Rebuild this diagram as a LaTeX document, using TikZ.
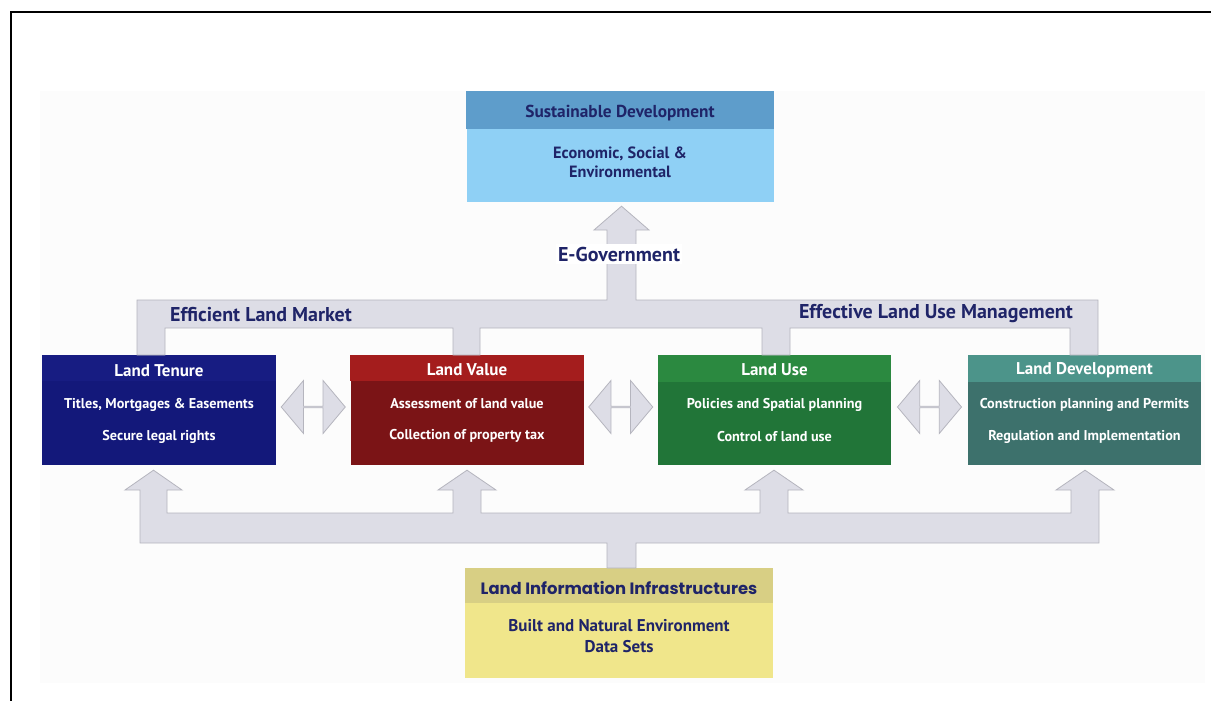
\documentclass[tikz,border=0pt]{standalone}
\usepackage{fontspec}
\setmainfont{PT Sans}
\newfontfamily\widefont{Poppins}
\usetikzlibrary{shapes.arrows,calc}
\definecolor{navytxt}{HTML}{1F2468}
\definecolor{agrey}{HTML}{B5B5BE}
\definecolor{afill}{HTML}{DDDDE6}
\definecolor{bgc}{HTML}{FCFCFC}
\definecolor{tenB}{HTML}{13187A}
\definecolor{tenH}{HTML}{171C82}
\definecolor{valB}{HTML}{7B1416}
\definecolor{valH}{HTML}{A41D1D}
\definecolor{useB}{HTML}{217538}
\definecolor{useH}{HTML}{2B8940}
\definecolor{devB}{HTML}{3D716C}
\definecolor{devH}{HTML}{4C948A}
\definecolor{sdB}{HTML}{8FD0F5}
\definecolor{sdH}{HTML}{5E9DCB}
\definecolor{liB}{HTML}{F0E68B}
\definecolor{liH}{HTML}{D8CF84}
\begin{document}
\begin{tikzpicture}[x=1pt,y=-1pt,
  landbox/.style={rectangle, inner sep=0pt, minimum width=233pt, minimum height=110pt},
  bigbox/.style={rectangle, inner sep=0pt, minimum width=307pt, minimum height=111pt},
  ttl/.style={text=white, inner sep=0pt, font=\bfseries\fontsize{17}{19}\selectfont},
  txt/.style={text=white, inner sep=0pt, font=\bfseries\fontsize{14.2}{16}\selectfont},
  navy/.style={text=navytxt, inner sep=1pt, font=\bfseries\fontsize{20}{22}\selectfont},
  arrowst/.style={draw=agrey, fill=afill, line width=0.8pt, line join=miter},
  dbl/.style={double arrow, draw=agrey, fill=afill, line width=0.8pt, inner sep=0pt,
    minimum height=64pt, minimum width=53pt, double arrow head extend=14pt,
    double arrow tip angle=100}
]
\useasboundingbox (0,0) rectangle (1211,701);
\fill[white] (0,0) rectangle (1211,701);
\fill[bgc] (40,91) rectangle (1205,683);
\draw[line width=2pt] (11,701) -- (11,12) -- (1211,12);

% boxes
\node[bigbox, fill=sdB] (sd) at (620,146.5) {};
\fill[sdH] (sd.north west) rectangle ($(sd.north east)+(0,38)$);
\node[landbox, fill=tenB, minimum width=234pt] (tenure) at (159,410) {};
\node[landbox, fill=valB] (value) at (467,410) {};
\node[landbox, fill=useB] (use) at (774.5,410) {};
\node[landbox, fill=devB] (dev) at (1084.5,410) {};
\fill[tenH] (tenure.north west) rectangle ($(tenure.north east)+(0,26)$);
\fill[valH] (value.north west) rectangle ($(value.north east)+(0,26)$);
\fill[useH] (use.north west) rectangle ($(use.north east)+(0,27)$);
\fill[devH] (dev.north west) rectangle ($(dev.north east)+(0,27)$);
\node[bigbox, fill=liB, minimum width=308pt, minimum height=110pt] (lii) at (619,623) {};
\fill[liH] (lii.north west) rectangle ($(lii.north east)+(0,35)$);

% top comb connector with up arrow to Sustainable Development
\draw[arrowst] ($(sd.south)+(1.5,4)$) -- (649,230) -- (636,230) -- (636,300) -- (1098,300)
  -- (1098,355) -- (1070,355) -- (1070,328) -- (790,328) -- (790,355) -- (762,355)
  -- (762,328) -- (480,328) -- (480,355) -- (453,355) -- (453,328) -- (165,328)
  -- (165,355) -- (137,355) -- (137,300) -- (607,300) -- (607,230) -- (594,230) -- cycle;

% bottom comb connector from Land Information Infrastructures
\draw[arrowst] (140,543) -- (140,490) -- (125,490) -- ($(tenure.south)+(-5.5,5)$) -- (182,490)
  -- (167,490) -- (167,513) -- (453,513) -- (453,490) -- (438,490) -- ($(value.south)+(0,5)$)
  -- (496,490) -- (481,490) -- (481,513) -- (760,513) -- (760,490) -- (745,490)
  -- ($(use.south)+(-0.5,5)$) -- (803,490) -- (788,490) -- (788,513) -- (1071,513)
  -- (1071,490) -- (1056,490) -- ($(dev.south)+(0.5,5)$) -- (1114,490) -- (1099,490)
  -- (1099,543) -- (636,543) -- (636,568) -- (607,568) -- (607,543) -- cycle;

% double arrows between boxes
\node[dbl] (d1) at ($(tenure.east)!0.5!(value.west)+(0,-3)$) {};
\node[dbl] (d2) at ($(value.east)!0.5!(use.west)+(0,-3)$) {};
\node[dbl] (d3) at ($(use.east)!0.5!(dev.west)+(0,-3)$) {};

% labels on connectors
\node[navy, fill=white, inner xsep=2pt, inner ysep=3pt] (egov) at (619,254) {E-Government};
\node[navy, anchor=west] (elm) at (169,315) {Efficient Land Market};
\node[navy, anchor=east] (elum) at (1074,314) {Effective Land Use Management};

% texts: top box
\node[text=navytxt, font=\bfseries\fontsize{17.3}{19}\selectfont, inner sep=0pt] (sdT) at ($(sd.north)+(0,22)$) {Sustainable Development};
\node[text=navytxt, font=\bfseries\fontsize{16.3}{19}\selectfont, align=center, inner sep=0pt] (sdA) at ($(sd.north)+(0,71)$) {Economic, Social \&\\Environmental};

% texts: land boxes
\node[ttl] (tenT) at ($(tenure.north)+(0,16)$) {Land Tenure};
\node[txt] (tenA) at ($(tenure.north)+(0,50)$) {Titles, Mortgages \& Easements};
\node[txt] (tenB) at ($(tenure.north)+(0,82)$) {Secure legal rights};
\node[ttl] (valT) at ($(value.north)+(0,15)$) {Land Value};
\node[txt] (valA) at ($(value.north)+(0,49)$) {Assessment of land value};
\node[txt] (valB) at ($(value.north)+(0,81)$) {Collection of property tax};
\node[ttl] (useT) at ($(use.north)+(0,15)$) {Land Use};
\node[txt] (useA) at ($(use.north)+(0,50)$) {Policies and Spatial planning};
\node[txt] (useB) at ($(use.north)+(0,82)$) {Control of land use};
\node[ttl] (devT) at ($(dev.north)+(0,15)$) {Land Development};
\node[txt] (devA) at ($(dev.north)+(0,50)$) {Construction planning and Permits};
\node[txt] (devB) at ($(dev.north)+(0,82)$) {Regulation and Implementation};

% texts: bottom box
\node[text=navytxt, font=\widefont\bfseries\fontsize{16.4}{18}\selectfont, inner sep=0pt] (liT) at ($(lii.north)+(0,20)$) {Land Information Infrastructures};
\node[text=navytxt, font=\bfseries\fontsize{17}{21}\selectfont, align=center, inner sep=0pt] (liA) at ($(lii.north)+(0,68)$) {Built and Natural Environment\\Data Sets};
\end{tikzpicture}
\end{document}
